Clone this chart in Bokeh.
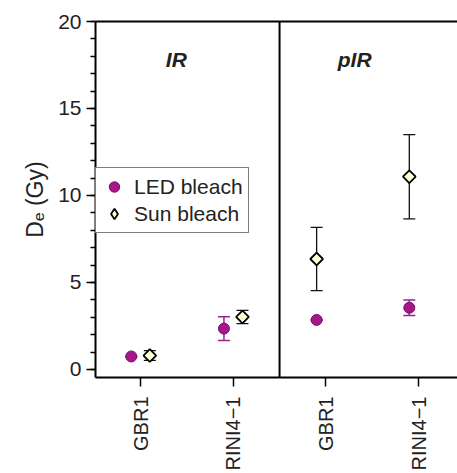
import math

from bokeh.embed import file_html
from bokeh.models import (ColumnDataSource, FixedTicker, Label, Legend, LegendItem,
                          LinearAxis, Range1d, Span, TeeHead, Title, Whisker)
from bokeh.plotting import figure
from bokeh.resources import INLINE

# Sample slots along x: two IR measurements, then two pIR measurements
samples = ["GBR1", "RINI4−1", "GBR1", "RINI4−1"]
signals = ["IR", "IR", "pIR", "pIR"]
slots = [1, 2, 3, 4]
groups = ["IR", "pIR"]

# Equivalent dose (Gy) with 1-sigma errors
led_de = [0.75, 2.35, 2.85, 3.55]
led_err = [0.0, 0.68, 0.0, 0.44]
sun_de = [0.80, 3.02, 6.35, 11.08]
sun_err = [0.28, 0.38, 1.82, 2.42]

y_ticks = [0, 5, 10, 15, 20]
y_minor = list(range(0, 21))

FONT = "Liberation Sans"
TXT = "#222222"
LED_FILL = "#A8168C"
LED_LINE = "#76106A"
LED_ERR = "#9A2190"
SUN_FILL = "#FFFFD2"

# horizontal nudge of each series within a slot, per signal type
led_shift = {"IR": -0.1, "pIR": -0.1}
sun_shift = {"IR": 0.1, "pIR": -0.1}

led_x = [s + led_shift[g] for s, g in zip(slots, signals)]
sun_x = [s + sun_shift[g] for s, g in zip(slots, signals)]

led_src = ColumnDataSource(dict(
    x=led_x, y=led_de,
    lo=[v - e for v, e in zip(led_de, led_err)],
    hi=[v + e for v, e in zip(led_de, led_err)],
))
sun_src = ColumnDataSource(dict(
    x=sun_x, y=sun_de,
    lo=[v - e for v, e in zip(sun_de, sun_err)],
    hi=[v + e for v, e in zip(sun_de, sun_err)],
))

p = figure(
    width=457, height=473,
    x_range=Range1d(0.514, 4.42), y_range=Range1d(-0.46, 20),
    output_backend="svg", toolbar_location=None,
    min_border_left=95, min_border_right=0, min_border_top=21, min_border_bottom=95,
)
p.outline_line_color = None
p.xgrid.visible = False
p.ygrid.visible = False
p.background_fill_color = "white"
p.border_fill_color = "white"

# y axis
ya = p.yaxis[0]
ya.ticker = FixedTicker(ticks=y_ticks, minor_ticks=y_minor)
ya.axis_line_width = 2
ya.major_tick_in = 0
ya.major_tick_out = 9
ya.minor_tick_in = 0
ya.minor_tick_out = 5
ya.major_tick_line_width = 1.5
ya.minor_tick_line_width = 1.5
ya.major_label_standoff = 5
ya.major_label_text_font = FONT
ya.major_label_text_font_size = "21px"
ya.major_label_text_color = TXT

# x axis with sample names
xa = p.xaxis[0]
xa.ticker = FixedTicker(ticks=slots, minor_ticks=[])
xa.major_label_overrides = {s: name for s, name in zip(slots, samples)}
xa.major_label_orientation = math.pi / 2
xa.axis_line_width = 2
xa.major_tick_in = 0
xa.major_tick_out = 9
xa.major_tick_line_width = 1.5
xa.major_label_standoff = 10
xa.major_label_text_font = FONT
xa.major_label_text_font_size = "20px"
xa.major_label_text_color = TXT

# top frame line
top = LinearAxis(ticker=FixedTicker(ticks=[], minor_ticks=[]), axis_line_width=2,
                 major_label_text_font_size="0px", major_tick_out=0, minor_tick_out=0)
p.add_layout(top, "above")

# y axis title, placed as a side title so it can be nudged along the axis
p.add_layout(Title(text="Dₑ (Gy)", align="center", offset=-18, text_font=FONT,
                   text_font_size="23px", text_font_style="normal", text_color=TXT,
                   standoff=16), "left")

# divider between IR and pIR groups
p.add_layout(Span(location=(slots[1] + slots[2]) / 2, dimension="height",
                  line_color="black", line_width=2))

# error bars
led_w = Whisker(source=led_src, base="x", lower="lo", upper="hi",
                line_color=LED_ERR, line_width=1.5, level="underlay",
                lower_head=TeeHead(size=12, line_color=LED_ERR, line_width=1.5),
                upper_head=TeeHead(size=12, line_color=LED_ERR, line_width=1.5))
sun_w = Whisker(source=sun_src, base="x", lower="lo", upper="hi",
                line_color="#111111", line_width=1.3, level="underlay",
                lower_head=TeeHead(size=12, line_color="#111111", line_width=1.3),
                upper_head=TeeHead(size=12, line_color="#111111", line_width=1.3))
p.add_layout(led_w)
p.add_layout(sun_w)

led_r = p.scatter("x", "y", source=led_src, marker="circle", size=11,
                  fill_color=LED_FILL, line_color=LED_LINE, line_width=1)
sun_r = p.scatter("x", "y", source=sun_src, marker="square", angle=math.pi / 4, size=9,
                  fill_color=SUN_FILL, line_color="black", line_width=1.8)
# diamond-shaped key for the legend (legend keys ignore marker angle)
sun_key = p.scatter("x", "y", source=sun_src, marker="diamond", size=13,
                    fill_color=SUN_FILL, line_color="black", line_width=1.8, visible=False)

# group titles
for g, x in zip(groups, [1.386, 3.31]):
    p.add_layout(Label(x=x, y=17.8, text=g, text_align="center", text_baseline="middle",
                       text_font=FONT, text_font_size="21px", text_font_style="bold italic",
                       text_color=TXT))

legend = Legend(
    items=[LegendItem(label="LED bleach", renderers=[led_r]),
           LegendItem(label="Sun bleach", renderers=[sun_key])],
    location=(0, 144), margin=0, padding=5, spacing=0,
    glyph_width=26, glyph_height=27, label_standoff=7,
    label_text_font=FONT, label_text_font_size="21px", label_text_color=TXT,
    border_line_color="black", border_line_width=1.5, background_fill_color="white",
    background_fill_alpha=1.0,
)
p.add_layout(legend)

open("out.html", "w").write(file_html(p, INLINE))
